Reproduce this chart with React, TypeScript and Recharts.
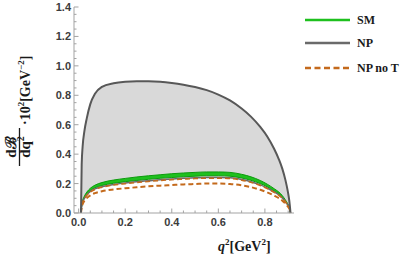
import { ComposedChart, Area, Line, XAxis, YAxis, Legend } from "recharts";

// q^2 sample points [GeV^2]
const q2 = [0.01, 0.013, 0.017, 0.025, 0.035, 0.05, 0.07, 0.1, 0.15, 0.2, 0.25, 0.3, 0.35, 0.4, 0.45, 0.5, 0.55, 0.6, 0.65, 0.7, 0.74, 0.78, 0.81, 0.84, 0.86, 0.875, 0.888, 0.898, 0.905, 0.91];

// NP band (upper / lower edge)
const npHigh = [0, 0.33, 0.45, 0.56, 0.645, 0.74, 0.81, 0.857, 0.882, 0.892, 0.895, 0.895, 0.892, 0.884, 0.872, 0.856, 0.835, 0.805, 0.765, 0.71, 0.655, 0.585, 0.52, 0.435, 0.365, 0.3, 0.225, 0.15, 0.08, 0];
const npLow = [0, 0.045, 0.073, 0.1, 0.123, 0.146, 0.164, 0.179, 0.194, 0.204, 0.212, 0.219, 0.226, 0.231, 0.236, 0.239, 0.242, 0.242, 0.239, 0.228, 0.213, 0.191, 0.17, 0.143, 0.123, 0.102, 0.077, 0.055, 0.035, 0];

// SM band
const smHigh = [0, 0.053, 0.084, 0.116, 0.142, 0.168, 0.189, 0.207, 0.224, 0.235, 0.245, 0.253, 0.26, 0.267, 0.272, 0.276, 0.279, 0.279, 0.276, 0.263, 0.246, 0.221, 0.196, 0.165, 0.142, 0.118, 0.089, 0.063, 0.04, 0];
const smLow = [0, 0.047, 0.076, 0.104, 0.128, 0.152, 0.171, 0.187, 0.202, 0.213, 0.221, 0.229, 0.236, 0.241, 0.246, 0.25, 0.253, 0.253, 0.25, 0.238, 0.222, 0.2, 0.178, 0.149, 0.128, 0.106, 0.081, 0.057, 0.036, 0];

// NP without tensor
const noTHigh = [0, 0.045, 0.071, 0.098, 0.12, 0.142, 0.16, 0.175, 0.19, 0.199, 0.207, 0.214, 0.221, 0.226, 0.23, 0.234, 0.237, 0.237, 0.234, 0.223, 0.208, 0.187, 0.166, 0.14, 0.12, 0.1, 0.076, 0.053, 0.034, 0];
const noTLow = [0, 0.037, 0.06, 0.083, 0.101, 0.12, 0.135, 0.148, 0.16, 0.168, 0.175, 0.181, 0.186, 0.19, 0.194, 0.197, 0.2, 0.2, 0.197, 0.188, 0.176, 0.158, 0.14, 0.118, 0.101, 0.084, 0.064, 0.045, 0.029, 0];

const xTicks = [0, 0.05, 0.1, 0.15, 0.2, 0.25, 0.3, 0.35, 0.4, 0.45, 0.5, 0.55, 0.6, 0.65, 0.7, 0.75, 0.8, 0.85, 0.9];
const yTicks = [0, 0.05, 0.1, 0.15, 0.2, 0.25, 0.3, 0.35, 0.4, 0.45, 0.5, 0.55, 0.6, 0.65, 0.7, 0.75, 0.8, 0.85, 0.9, 0.95, 1, 1.05, 1.1, 1.15, 1.2, 1.25, 1.3, 1.35, 1.4];

const rows = q2.map((x, i) => ({
  x,
  np: [npLow[i], npHigh[i]],
  npHigh: npHigh[i],
  npLow: npLow[i],
  sm: [smLow[i], smHigh[i]],
  noTHigh: noTHigh[i],
  noTLow: noTLow[i],
}));

const FRAME = "#a3a3a3";
const ORANGE = "#c46a1c";
const GREEN = "#1ec01e";
const NPGRAY = "#585858";
const tickFont = { fontFamily: "'Liberation Sans', Arial, sans-serif", fontWeight: 700, fontSize: 11, fill: "#3c3c3c" };
const serif = "'Liberation Serif', 'Times New Roman', serif";

const isMajor = (v: number) => Math.abs(v * 5 - Math.round(v * 5)) < 1e-6;

function BottomTick({ x, y, payload }: any) {
  const v = payload.value;
  const major = isMajor(v);
  return (
    <g>
      <line x1={x} x2={x} y1={y} y2={y - (major ? 4.5 : 2.5)} stroke={FRAME} />
      {major && <text x={x} y={y + 13} textAnchor="middle" {...tickFont}>{v.toFixed(1)}</text>}
    </g>
  );
}

function TopTick({ x, y, payload }: any) {
  const major = isMajor(payload.value);
  return <line x1={x} x2={x} y1={y} y2={y + (major ? 4.5 : 2.5)} stroke={FRAME} />;
}

function LeftTick({ x, y, payload }: any) {
  const v = payload.value;
  const major = isMajor(v);
  return (
    <g>
      <line x1={x} x2={x + (major ? 4.5 : 2.5)} y1={y} y2={y} stroke={FRAME} />
      {major && <text x={x - 3} y={y + 4} textAnchor="end" {...tickFont}>{v.toFixed(1)}</text>}
    </g>
  );
}

function RightTick({ x, y, payload }: any) {
  const major = isMajor(payload.value);
  return <line x1={x} x2={x - (major ? 4.5 : 2.5)} y1={y} y2={y} stroke={FRAME} />;
}

function YLabel() {
  return (
    <g transform="translate(19.5,147) rotate(-90)" fontFamily={serif} fontWeight="bold" fill="#1a1a1a">
      <text x={0} y={-4} textAnchor="middle" fontSize={15}>dℬ</text>
      <line x1={-19} x2={19} y1={0} y2={0} stroke="#1a1a1a" strokeWidth={1.3} />
      <text x={0} y={10.5} textAnchor="middle" fontSize={15}>
        dq<tspan fontSize={10} dy={-6}>2</tspan>
      </text>
      <text x={22} y={10} fontSize={14}>
        ·10<tspan fontSize={9} dy={-6}>2</tspan>
        <tspan dy={6}>[GeV</tspan>
        <tspan fontSize={9} dy={-6}>−2</tspan>
        <tspan dy={6}>]</tspan>
      </text>
    </g>
  );
}

function XLabel() {
  return (
    <text x={218} y={251} fontFamily={serif} fontWeight="bold" fontSize={14} fill="#1a1a1a">
      <tspan fontStyle="italic">q</tspan>
      <tspan fontSize={9} dy={-6}>2</tspan>
      <tspan dy={6}>[GeV</tspan>
      <tspan fontSize={9} dy={-6}>2</tspan>
      <tspan dy={6}>]</tspan>
    </text>
  );
}

function LegendBox() {
  const items = [
    { name: "SM", y: 12, color: GREEN, dash: undefined },
    { name: "NP", y: 35, color: "#6a6a6a", dash: undefined },
    { name: "NP no T", y: 60, color: ORANGE, dash: "6 3.5" },
  ];
  return (
    <svg width={112} height={72}>
      {items.map((it) => (
        <g key={it.name}>
          <line x1={7} x2={52} y1={it.y} y2={it.y} stroke={it.color} strokeWidth={2.5} strokeDasharray={it.dash} />
          <text x={59} y={it.y + 4} fontFamily={serif} fontWeight="bold" fontSize={12} fill="#1a1a1a">{it.name}</text>
        </g>
      ))}
    </svg>
  );
}

export default function App() {
  return (
    <div style={{ position: "absolute", left: 0, top: 0, background: "#fff" }}>
      <ComposedChart width={412} height={259} data={rows} margin={{ top: 7, right: 6, bottom: 0, left: 0 }}>
        <XAxis xAxisId="b" dataKey="x" type="number" domain={[-0.02, 0.925]} ticks={xTicks} interval={0}
          height={46} tickSize={0} tickMargin={0} tickLine={false} tick={<BottomTick />}
          axisLine={{ stroke: FRAME }} label={<XLabel />} />
        <XAxis xAxisId="t" orientation="top" dataKey="x" type="number" domain={[-0.02, 0.925]} ticks={xTicks} interval={0}
          height={0} tickSize={0} tickMargin={0} tickLine={false} tick={<TopTick />} axisLine={{ stroke: FRAME }} />
        <YAxis yAxisId="l" type="number" domain={[0, 1.4]} ticks={yTicks} interval={0} width={74}
          tickSize={0} tickMargin={0} tickLine={false} tick={<LeftTick />} axisLine={{ stroke: FRAME }} label={<YLabel />} />
        <YAxis yAxisId="r" orientation="right" type="number" domain={[0, 1.4]} ticks={yTicks} interval={0} width={0}
          tickSize={0} tickMargin={0} tickLine={false} tick={<RightTick />} axisLine={{ stroke: FRAME }} />

        <Area xAxisId="b" yAxisId="l" type="monotone" dataKey="np" fill="#d9d9d9" fillOpacity={1} stroke="none" isAnimationActive={false} />
        <Line xAxisId="b" yAxisId="l" type="monotone" dataKey="npLow" stroke="#6a6a6a" strokeWidth={1.5} dot={false} isAnimationActive={false} />
        <Line xAxisId="b" yAxisId="l" type="monotone" dataKey="noTHigh" stroke={ORANGE} strokeWidth={1.5} strokeDasharray="5 3" dot={false} isAnimationActive={false} />
        <Line xAxisId="b" yAxisId="l" type="monotone" dataKey="noTLow" stroke={ORANGE} strokeWidth={2} strokeDasharray="5 3" dot={false} isAnimationActive={false} />
        <Area xAxisId="b" yAxisId="l" type="monotone" dataKey="sm" fill={GREEN} fillOpacity={1} stroke="#0c9c0c" strokeWidth={1} isAnimationActive={false} />
        <Line xAxisId="b" yAxisId="l" type="monotone" dataKey="npHigh" stroke={NPGRAY} strokeWidth={2} dot={false} isAnimationActive={false} />

        <Legend layout="horizontal" verticalAlign="middle" align="right" content={() => <LegendBox />}
          wrapperStyle={{ left: 298, top: 8, width: 112, height: 72 }} />
      </ComposedChart>
    </div>
  );
}
